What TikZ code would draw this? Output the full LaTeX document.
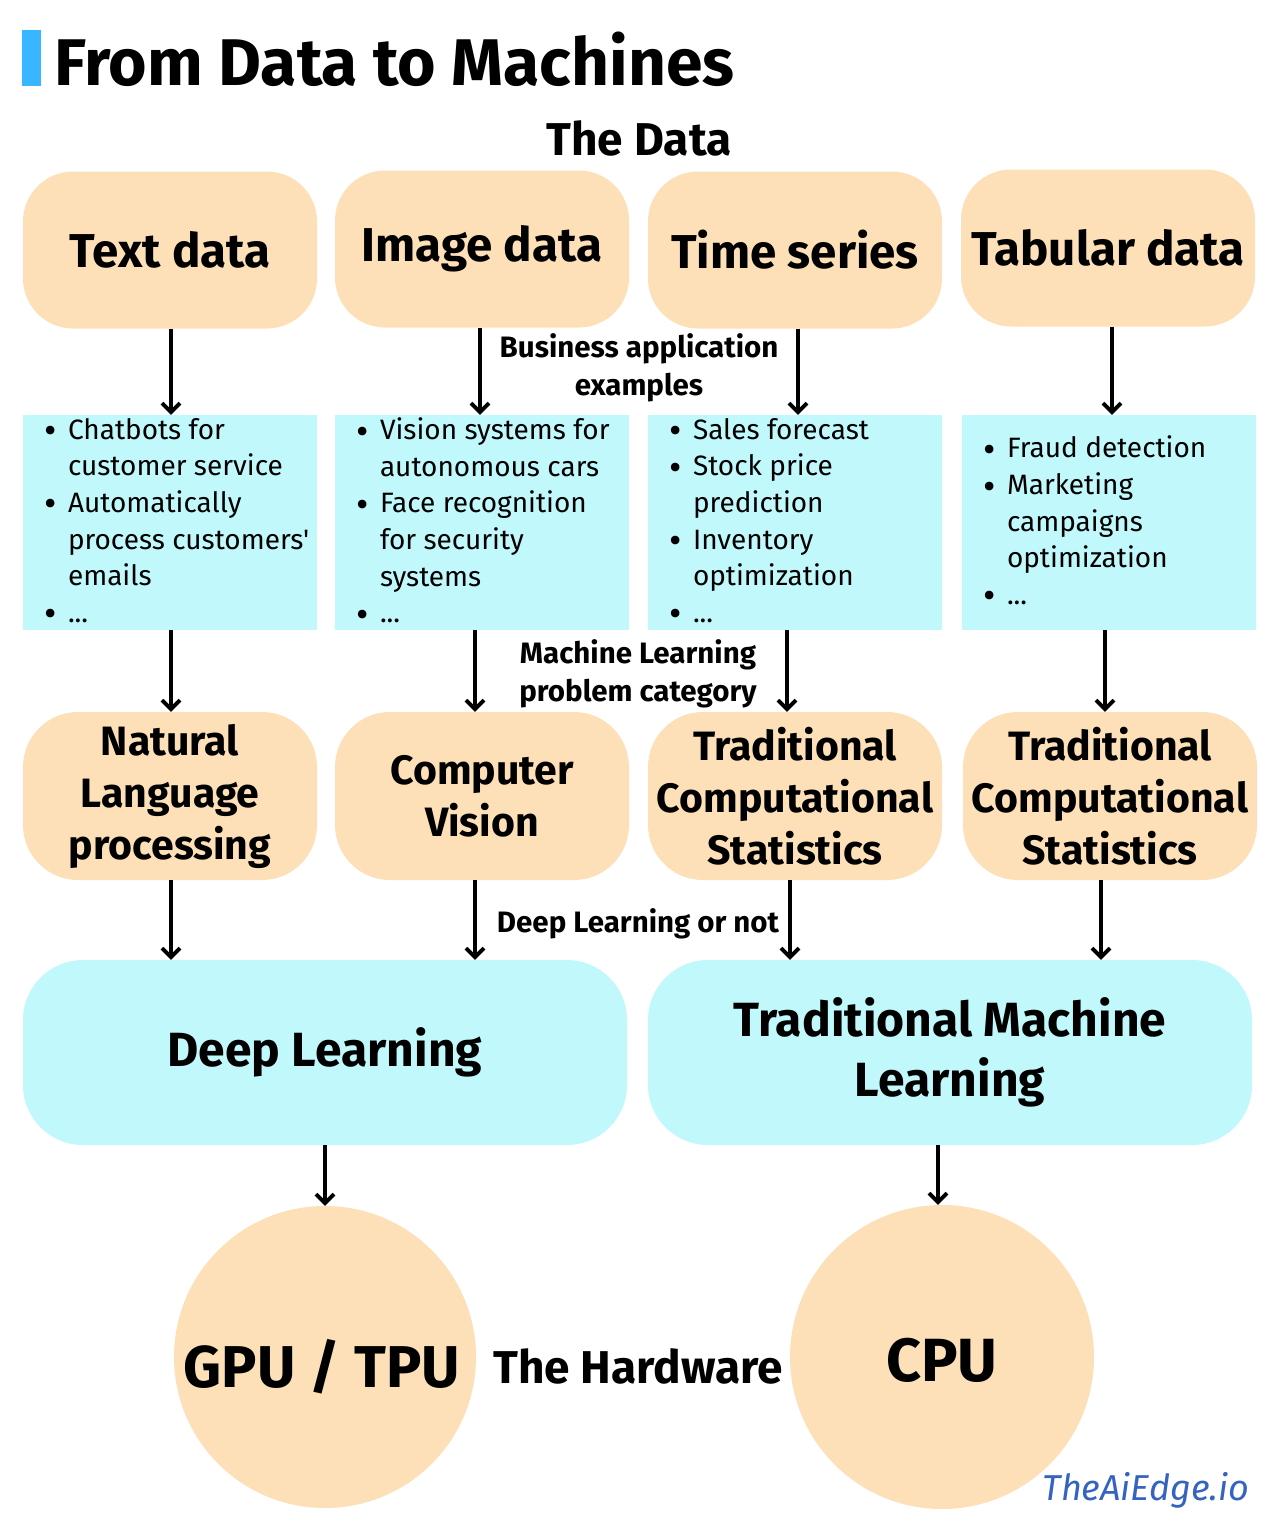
\documentclass[tikz,border=0pt]{standalone}
\usepackage{fontspec}
\setmainfont{Fira Sans}
\newfontfamily\plainfont{Fira Sans}[Ligatures=TeXOff]
\usetikzlibrary{arrows.meta,calc}
\definecolor{peach}{HTML}{FDE0B8}
\definecolor{aqua}{HTML}{C0F8FC}
\definecolor{barblue}{HTML}{38B6FF}
\definecolor{edgeblue}{HTML}{3563C0}
\newcommand{\bul}{\makebox[25pt][l]{\hspace{1pt}\raisebox{-4.5pt}{\fontsize{38}{36.6}\selectfont\textbullet}}}
\newcommand{\ind}{\hspace*{25pt}}
\begin{document}
\begin{tikzpicture}[x=1pt,y=-1pt,
  databox/.style={fill=peach, rounded corners=50pt, minimum width=294pt, minimum height=157pt, inner sep=0pt, align=center, font=\fontsize{47.5}{50}\selectfont\bfseries},
  appbox/.style={fill=aqua, minimum width=294pt, minimum height=215pt, inner sep=0pt},
  bullets/.style={anchor=west, inner sep=0pt, align=left, font=\plainfont\fontsize{28}{36.6}\selectfont},
  catbox/.style={fill=peach, rounded corners=55pt, minimum width=294pt, minimum height=168pt, inner sep=0pt, align=center, font=\fontsize{41}{52}\selectfont\bfseries},
  mlbox/.style={fill=aqua, rounded corners=60pt, minimum width=604pt, minimum height=185pt, inner sep=0pt, align=center, font=\fontsize{48}{60}\selectfont\bfseries},
  hwcircle/.style={fill=peach, circle, inner sep=0pt},
  steplabel/.style={align=center, inner sep=0pt, font=\fontsize{29.5}{38}\selectfont\bfseries},
  arr/.style={line width=3.8pt, -{Straight Barb[length=9pt,width=18pt,line width=3.8pt]}}
]
\useasboundingbox[fill=white] (0,0) rectangle (1283,1536);

% title
\fill[barblue] (22,30) rectangle (41,86);
\node[anchor=west, inner sep=0pt, font=\fontsize{66}{70}\selectfont\bfseries] (title) at (54,59) {From Data to Machines};
\node[inner sep=0pt, font=\fontsize{46}{48}\selectfont\bfseries] (thedata) at (639,138) {The Data};

% row 1
\node[databox] (t1) at (170,250) {Text data};
\node[databox] (t2) at (482,249) {Image data};
\node[databox] (t3) at (795,250) {Time series};
\node[databox] (t4) at (1108,248) {Tabular data};

% row 2
\node[appbox] (b1) at (170,522.5) {};
\node[appbox] (b2) at (482,522.5) {};
\node[appbox] (b3) at (795,522.5) {};
\node[appbox] (b4) at (1109,522.5) {};
\node[bullets] (l1) at ([xshift=20pt]b1.west) {\bul Chatbots for\\ \ind customer service\\ \bul Automatically\\ \ind process customers'\\ \ind emails\\ \bul ...};
\node[bullets] (l2) at ([xshift=20pt]b2.west) {\bul Vision systems for\\ \ind autonomous cars\\ \bul Face recognition\\ \ind for security\\ \ind systems\\ \bul ...};
\node[bullets] (l3) at ([xshift=20pt]b3.west) {\bul Sales forecast\\ \bul Stock price\\ \ind prediction\\ \bul Inventory\\ \ind optimization\\ \bul ...};
\node[bullets] (l4) at ([xshift=20pt]b4.west) {\bul Fraud detection\\ \bul Marketing\\ \ind campaigns\\ \ind optimization\\ \bul ...};

% row 3
\node[catbox] (c1) at (170,796) {Natural\\Language\\processing};
\node[catbox] (c2) at (482,796) {Computer\\Vision};
\node[catbox] (c3) at (795,796) {Traditional\\Computational\\Statistics};
\node[catbox] (c4) at (1110,796) {Traditional\\Computational\\Statistics};

% row 4
\node[mlbox] (dl) at (325,1052.5) {Deep Learning};
\node[mlbox] (tml) at (950,1052.5) {Traditional Machine\\Learning};

% hardware
\node[hwcircle, minimum size=302pt] (gpu) at (325,1357) {};
\node[hwcircle, minimum size=304pt] (cpu) at (942,1357) {};
\node[inner sep=0pt, font=\fontsize{59}{60}\selectfont\bfseries] (gputext) at (322,1367) {GPU / TPU};
\node[inner sep=0pt, font=\fontsize{61}{60}\selectfont\bfseries] (cputext) at (942,1360) {CPU};
\node[inner sep=0pt, font=\fontsize{46}{48}\selectfont\bfseries] (hw) at (638,1366) {The Hardware};

% labels
\node[steplabel] (lab1) at (639,368) {Business application\\examples};
\node[steplabel] (lab2) at (638,674) {Machine Learning\\problem category};
\node[steplabel] (lab3) at (638,924) {Deep Learning or not};

% watermark
\node[inner sep=0pt, font=\fontsize{36}{40}\selectfont\itshape, text=edgeblue] (wm) at (1146,1490) {TheAiEdge.io};

% arrows row1 -> row2
\draw[arr] ([xshift=1pt]t1.south) -- ([xshift=1pt]t1.south |- b1.north);
\draw[arr] ([xshift=-2pt]t2.south) -- ([xshift=-2pt]t2.south |- b2.north);
\draw[arr] ([xshift=3pt]t3.south) -- ([xshift=3pt]t3.south |- b3.north);
\draw[arr] ([xshift=4pt]t4.south) -- ([xshift=4pt]t4.south |- b4.north);
% row2 -> row3
\draw[arr] ([xshift=1pt]b1.south) -- ([xshift=1pt]b1.south |- c1.north);
\draw[arr] ([xshift=-7pt]b2.south) -- ([xshift=-7pt]b2.south |- c2.north);
\draw[arr] ([xshift=-8pt]b3.south) -- ([xshift=-8pt]b3.south |- c3.north);
\draw[arr] ([xshift=-4pt]b4.south) -- ([xshift=-4pt]b4.south |- c4.north);
% row3 -> row4
\draw[arr] ([xshift=1pt]c1.south) -- ([xshift=1pt]c1.south |- dl.north);
\draw[arr] ([xshift=-7pt]c2.south) -- ([xshift=-7pt]c2.south |- dl.north);
\draw[arr] ([xshift=-5pt]c3.south) -- ([xshift=-5pt]c3.south |- tml.north);
\draw[arr] ([xshift=-9pt]c4.south) -- ([xshift=-9pt]c4.south |- tml.north);
% row4 -> hardware
\draw[arr] (dl.south) -- (gpu.north);
\draw[arr] ([xshift=-4pt]cpu.north |- tml.south) -- ([xshift=-4pt]cpu.north);
\end{tikzpicture}
\end{document}
